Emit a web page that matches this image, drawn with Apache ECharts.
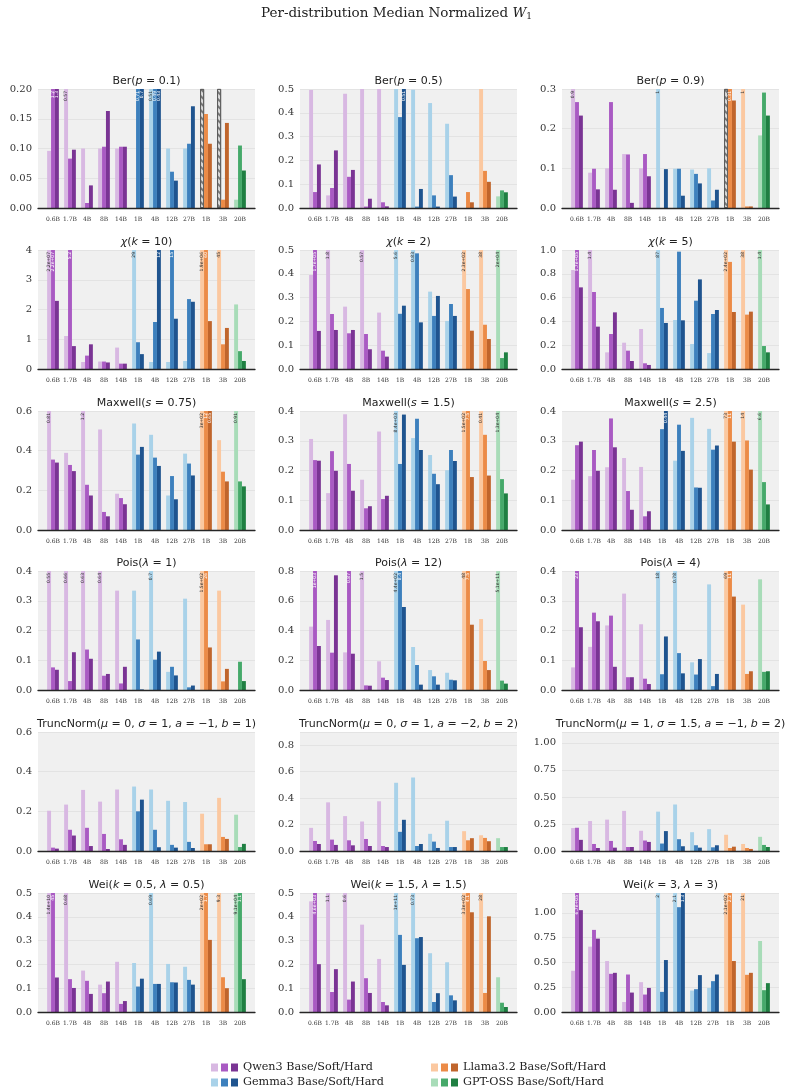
<!DOCTYPE html>
<html>
<head>
<meta charset="utf-8">
<script src="https://cdn.jsdelivr.net/npm/echarts@6/dist/echarts.min.js"></script>
<style>
html, body { margin: 0; padding: 0; background: #fff; }
#chart { width: 793px; height: 1092px; }
</style>
</head>
<body>
<div id="chart"></div>
<script>
// categories (model sizes) and their family
var modelSizes = ['0.6B', '1.7B', '4B', '8B', '14B', '1B', '4B', '12B', '27B', '1B', '3B', '20B'];
var familyOfGroup = [0, 0, 0, 0, 0, 1, 1, 1, 1, 2, 2, 3];
var familyNames = ['Qwen3', 'Gemma3', 'Llama3.2', 'GPT-OSS'];

// panel titles / y axes
var panelTitles = [
	'Ber({i|p} = 0.1)', 'Ber({i|p} = 0.5)', 'Ber({i|p} = 0.9)',
	'{i|χ}({i|k} = 10)', '{i|χ}({i|k} = 2)', '{i|χ}({i|k} = 5)',
	'Maxwell({i|s} = 0.75)', 'Maxwell({i|s} = 1.5)', 'Maxwell({i|s} = 2.5)',
	'Pois({i|λ} = 1)', 'Pois({i|λ} = 12)', 'Pois({i|λ} = 4)',
	'TruncNorm({i|μ} = 0, {i|σ} = 1, {i|a} = −1, {i|b} = 1)',
	'TruncNorm({i|μ} = 0, {i|σ} = 1, {i|a} = −2, {i|b} = 2)',
	'TruncNorm({i|μ} = 1, {i|σ} = 1.5, {i|a} = −1, {i|b} = 2)',
	'Wei({i|k} = 0.5, {i|λ} = 0.5)', 'Wei({i|k} = 1.5, {i|λ} = 1.5)', 'Wei({i|k} = 3, {i|λ} = 3)'
];
var yMax = [0.2, 0.5, 0.3, 4, 0.5, 1.0, 0.6, 0.4, 0.4, 0.4, 0.8, 0.4, 0.6, 0.9, 1.1, 0.5, 0.5, 1.2];
var yStep = [0.05, 0.1, 0.1, 1, 0.1, 0.2, 0.2, 0.1, 0.1, 0.1, 0.2, 0.1, 0.2, 0.2, 0.25, 0.1, 0.1, 0.25];
var yDecimals = [2, 1, 1, 0, 1, 1, 1, 1, 1, 1, 1, 1, 1, 1, 2, 1, 1, 2];

// values (null = missing, drawn hatched)
var berP01Base = [0.096, 0.57, 0.100, 0.100, 0.100, 0, 0.51, 0.100, 0.100, null, null, 0.014];
var berP01Soft = [1.2, 0.083, 0.0084, 0.103, 0.103, 0.71, 0.49, 0.061, 0.108, 0.158, 0.014, 0.105];
var berP01Hard = [1.3, 0.098, 0.038, 0.163, 0.103, 0.7, 0.43, 0.046, 0.171, 0.108, 0.143, 0.063];

var berP05Base = [0.496, 0.053, 0.480, 0.5, 0.5, 0.5, 0.497, 0.441, 0.354, 0, 0.5, 0.049];
var berP05Soft = [0.067, 0.084, 0.131, 0.006, 0.024, 0.382, 0.006, 0.053, 0.138, 0.067, 0.156, 0.074];
var berP05Hard = [0.183, 0.242, 0.160, 0.039, 0.007, 0.51, 0.080, 0.006, 0.048, 0.024, 0.110, 0.066];

var berP09Base = [0.9, 0.089, 0.100, 0.136, 0.100, 1, 0.099, 0.097, 0.100, null, 1, 0.183];
var berP09Soft = [0.267, 0.099, 0.267, 0.135, 0.136, 0, 0.099, 0.086, 0.019, 0.31, 0.004, 0.291];
var berP09Hard = [0.233, 0.047, 0.046, 0.013, 0.080, 0.098, 0.031, 0.062, 0.046, 0.271, 0.004, 0.233];

var chiK10Base = [2.2e7, 1.11, 0.235, 0.25, 0.72, 29, 0.235, 0.235, 0.27, 1.9e6, 45, 2.17];
var chiK10Soft = [2.2e7, 5.2, 0.45, 0.25, 0.18, 0.90, 1.58, 15, 2.35, 60, 0.83, 0.60];
var chiK10Hard = [2.29, 0.77, 0.83, 0.22, 0.18, 0.50, 12, 1.69, 2.26, 1.61, 1.38, 0.27];

var chiK2Base = [0.395, 1.8, 0.262, 0.57, 0.237, 5.6, 0.83, 0.325, 0.202, 230, 38, 2e4];
var chiK2Soft = [1.7e5, 0.231, 0.150, 0.147, 0.077, 0.232, 0.486, 0.223, 0.273, 0.336, 0.186, 0.046];
var chiK2Hard = [0.160, 0.164, 0.164, 0.083, 0.052, 0.266, 0.196, 0.307, 0.223, 0.161, 0.126, 0.070];

var chiK5Base = [0.832, 1.4, 0.140, 0.221, 0.336, 87, 0.412, 0.210, 0.134, 240, 38, 1.4];
var chiK5Soft = [1.7e5, 0.647, 0.294, 0.154, 0.048, 0.513, 0.986, 0.574, 0.462, 0.9, 0.457, 0.193];
var chiK5Hard = [0.686, 0.356, 0.476, 0.067, 0.034, 0.387, 0.409, 0.753, 0.496, 0.479, 0.482, 0.140];

var maxS075Base = [0.81, 0.389, 1.2, 0.507, 0.183, 0.537, 0.480, 0.174, 0.385, 300, 0.453, 0.91];
var maxS075Soft = [0.355, 0.328, 0.228, 0.091, 0.161, 0.380, 0.365, 0.272, 0.335, 12, 0.294, 0.245];
var maxS075Hard = [0.340, 0.297, 0.174, 0.069, 0.130, 0.419, 0.323, 0.155, 0.275, 0.65, 0.245, 0.220];

var maxS15Base = [0.306, 0.124, 0.389, 0.169, 0.331, 8400, 0.309, 0.252, 0.201, 150, 0.41, 1.3e4];
var maxS15Soft = [0.235, 0.265, 0.222, 0.073, 0.104, 0.222, 0.374, 0.189, 0.269, 7.5, 0.320, 0.171];
var maxS15Hard = [0.233, 0.199, 0.132, 0.080, 0.115, 0.388, 0.269, 0.154, 0.232, 0.178, 0.183, 0.123];

var maxS25Base = [0.169, 0.181, 0.211, 0.242, 0.212, 3.2e26, 0.233, 0.377, 0.340, 73, 14, 6.6];
var maxS25Soft = [0.285, 0.269, 0.375, 0.131, 0.046, 0.339, 0.354, 0.143, 0.270, 11, 0.301, 0.161];
var maxS25Hard = [0.297, 0.199, 0.278, 0.068, 0.063, 0.44, 0.266, 0.142, 0.284, 0.297, 0.203, 0.086];

var poisL1Base = [0.55, 0.66, 0.63, 0.64, 0.334, 0.334, 0.7, 0.061, 0.307, 150, 0.334, 1.4e28];
var poisL1Soft = [0.076, 0.030, 0.136, 0.048, 0.022, 0.170, 0.102, 0.078, 0.009, 26, 0.029, 0.095];
var poisL1Hard = [0.068, 0.127, 0.105, 0.054, 0.078, 0.002, 0.129, 0.049, 0.015, 0.143, 0.071, 0.030];

var poisL12Base = [0.426, 0.471, 0.253, 1.5, 0.193, 440, 0.289, 0.134, 0.116, 48, 0.477, 5.1e11];
var poisL12Soft = [1000, 0.251, 0.87, 0.031, 0.083, 8.4, 0.168, 0.092, 0.069, 7.5, 0.195, 0.063];
var poisL12Hard = [0.296, 0.771, 0.244, 0.029, 0.067, 0.558, 0.036, 0.036, 0.065, 0.439, 0.134, 0.043];

var poisL4Base = [0.076, 0.145, 0.217, 0.324, 0.221, 18, 0.78, 0.093, 0.355, 69, 0.287, 0.372];
var poisL4Soft = [23, 0.260, 0.250, 0.043, 0.038, 0.053, 0.124, 0.052, 0.013, 11, 0.054, 0.061];
var poisL4Hard = [0.211, 0.231, 0.078, 0.043, 0.020, 0.180, 0.056, 0.104, 0.054, 0.314, 0.063, 0.063];

var tn1Base = [0.203, 0.234, 0.308, 0.249, 0.310, 0.325, 0.310, 0.253, 0.247, 0.188, 0.268, 0.183];
var tn1Soft = [0.017, 0.107, 0.117, 0.086, 0.059, 0.200, 0.107, 0.031, 0.046, 0.034, 0.071, 0.020];
var tn1Hard = [0.012, 0.078, 0.025, 0.010, 0.031, 0.259, 0.019, 0.017, 0.015, 0.034, 0.061, 0.036];

var tn2Base = [0.175, 0.368, 0.264, 0.223, 0.376, 0.516, 0.556, 0.130, 0.229, 0.150, 0.119, 0.097];
var tn2Soft = [0.076, 0.086, 0.081, 0.091, 0.038, 0.145, 0.038, 0.071, 0.030, 0.081, 0.099, 0.030];
var tn2Hard = [0.053, 0.046, 0.043, 0.038, 0.030, 0.236, 0.053, 0.023, 0.030, 0.097, 0.074, 0.030];

var tn3Base = [0.212, 0.277, 0.290, 0.371, 0.187, 0.364, 0.430, 0.174, 0.202, 0.150, 0.065, 0.131];
var tn3Soft = [0.215, 0.065, 0.093, 0.037, 0.097, 0.069, 0.109, 0.053, 0.034, 0.028, 0.028, 0.056];
var tn3Hard = [0.103, 0.028, 0.031, 0.037, 0.084, 0.184, 0.044, 0.031, 0.053, 0.040, 0.019, 0.037];

var weiK05Base = [1.4e10, 0.68, 0.174, 0.115, 0.211, 0.206, 0.69, 0.202, 0.190, 200, 9.3, 9.1e4];
var weiK05Soft = [45, 0.138, 0.131, 0.079, 0.034, 0.107, 0.118, 0.125, 0.135, 1.7, 0.146, 1.1];
var weiK05Hard = [0.145, 0.101, 0.076, 0.128, 0.046, 0.140, 0.118, 0.124, 0.115, 0.303, 0.100, 0.138];

var weiK15Base = [0.465, 1.1, 0.6, 0.367, 0.223, 1e11, 0.73, 0.247, 0.209, 330, 28, 0.146];
var weiK15Soft = [4600, 0.084, 0.052, 0.142, 0.042, 0.324, 0.310, 0.042, 0.070, 4.1, 0.080, 0.039];
var weiK15Hard = [0.201, 0.180, 0.128, 0.080, 0.028, 0.198, 0.315, 0.079, 0.049, 0.419, 0.402, 0.021];

var weiK3Base = [0.416, 0.659, 0.514, 0.101, 0.301, 2, 2.1, 0.216, 0.243, 210, 21, 0.716];
var weiK3Soft = [6.7e5, 0.828, 0.385, 0.378, 0.176, 0.203, 1.057, 0.230, 0.311, 2.2, 0.375, 0.220];
var weiK3Hard = [1.027, 0.740, 0.395, 0.196, 0.243, 0.524, 1.3, 0.372, 0.378, 0.514, 0.395, 0.291];

var panelData = [
	[berP01Base, berP01Soft, berP01Hard], [berP05Base, berP05Soft, berP05Hard], [berP09Base, berP09Soft, berP09Hard],
	[chiK10Base, chiK10Soft, chiK10Hard], [chiK2Base, chiK2Soft, chiK2Hard], [chiK5Base, chiK5Soft, chiK5Hard],
	[maxS075Base, maxS075Soft, maxS075Hard], [maxS15Base, maxS15Soft, maxS15Hard], [maxS25Base, maxS25Soft, maxS25Hard],
	[poisL1Base, poisL1Soft, poisL1Hard], [poisL12Base, poisL12Soft, poisL12Hard], [poisL4Base, poisL4Soft, poisL4Hard],
	[tn1Base, tn1Soft, tn1Hard], [tn2Base, tn2Soft, tn2Hard], [tn3Base, tn3Soft, tn3Hard],
	[weiK05Base, weiK05Soft, weiK05Hard], [weiK15Base, weiK15Soft, weiK15Hard], [weiK3Base, weiK3Soft, weiK3Hard]
];

// colours: family x (base, soft, hard)
var palette = [
	['#d8b8e2', '#a95ac3', '#7a3494'],
	['#a9d2e9', '#3d80bd', '#1f548f'],
	['#fbc8a0', '#ec8b47', '#c0652c'],
	['#a8dcb8', '#46a96a', '#1f7f42']
];

// layout
var colLeft = [38, 300, 562];
var rowTop = [89, 250, 411, 571, 732, 893];
var plotW = 217, plotH = 119, pad = 6.5;

/**
 * %.2g formatting like matplotlib
 */
function fmtG2(v) {
	var r = Number(v.toPrecision(2));
	var e = Math.floor(Math.log10(Math.abs(r)));
	if (e < -4 || e >= 2) {
		var parts = r.toExponential(1).split('e');
		var m = parts[0].replace(/\.0$/, '');
		var ex = parseInt(parts[1], 10);
		var sign = ex < 0 ? '-' : '+';
		ex = Math.abs(ex);
		return m + 'e' + sign + (ex < 10 ? '0' + ex : ex);
	}
	var t = r.toPrecision(2);
	if (t.indexOf('.') >= 0) t = t.replace(/0+$/, '').replace(/\.$/, '');
	return t;
}

var hatchStyle = {
	color: '#dcdcdc',
	borderColor: '#555',
	borderWidth: 0.8,
	decal: {
		symbol: 'rect',
		symbolSize: 1,
		dashArrayX: [[1, 0]],
		dashArrayY: [1.2, 2.4],
		rotation: Math.PI / 4,
		color: '#777'
	}
};

var option = {
	animation: false,
	backgroundColor: '#fff',
	title: [],
	grid: [],
	xAxis: [],
	yAxis: [],
	series: [],
	graphic: []
};

// main title
option.title.push({
	text: 'Per-distribution Median Normalized {i|W}{s|1}',
	left: 396.5,
	top: 6,
	padding: 0,
	textAlign: 'center',
	textStyle: {
		fontFamily: 'DejaVu Serif',
		fontSize: 13.5,
		fontWeight: 'normal',
		color: '#222',
		rich: {
			i: { fontFamily: 'DejaVu Serif', fontSize: 13.5, fontStyle: 'italic', color: '#222' },
			s: { fontFamily: 'DejaVu Serif', fontSize: 9, padding: [6, 0, 0, 0], color: '#222' }
		}
	}
});

panelData.forEach(function(sets, k) {
	var col = k % 3, row = Math.floor(k / 3);
	var left = colLeft[col], top = rowTop[row];
	var ymax = yMax[k], step = yStep[k], dec = yDecimals[k];
	var gA = option.grid.length;

	option.title.push({
		text: panelTitles[k],
		left: left + plotW / 2,
		top: top - 13.5,
		padding: 0,
		textAlign: 'center',
		textStyle: {
			fontFamily: 'DejaVu Sans',
			fontSize: 11,
			fontWeight: 'normal',
			color: '#222',
			rich: {
				i: { fontFamily: 'DejaVu Sans', fontSize: 11, fontStyle: 'italic', color: '#222' }
			}
		}
	});

	// background grid with y axis and bottom line
	option.grid.push({ left: left, top: top, width: plotW, height: plotH, show: true, backgroundColor: '#f0f0f0', borderWidth: 0 });
	// inner grid holding the bars (matplotlib margins)
	option.grid.push({ left: left + pad, top: top, width: plotW - 2 * pad, height: plotH });

	option.xAxis.push({
		gridIndex: gA, type: 'value', min: 0, max: 1, z: 5,
		axisLine: { show: true, onZero: true, lineStyle: { color: '#262626', width: 1.3 } },
		axisTick: { show: false }, axisLabel: { show: false }, splitLine: { show: false }
	});
	option.yAxis.push({
		gridIndex: gA, type: 'value', min: 0, max: ymax, interval: step,
		axisLine: { show: false }, axisTick: { show: false },
		axisLabel: {
			margin: 6, fontFamily: 'DejaVu Serif', fontSize: 10, color: '#333',
			formatter: function(v) {
				var q = v / step;
				return Math.abs(q - Math.round(q)) < 1e-6 ? v.toFixed(dec) : '';
			}
		},
		splitLine: { show: true, lineStyle: { color: '#e3e3e3', width: 1 } }
	});
	option.xAxis.push({
		gridIndex: gA + 1, type: 'category', data: modelSizes.map(function(s, i) { return String(i); }),
		axisLine: { show: false }, axisTick: { show: false },
		axisLabel: {
			interval: 0, margin: 8, fontFamily: 'DejaVu Serif', fontSize: 6, color: '#333',
			formatter: function(v, i) { return modelSizes[i]; }
		}
	});
	option.yAxis.push({ gridIndex: gA + 1, type: 'value', min: 0, max: ymax, show: false });

	sets.forEach(function(arr, v) {
		option.series.push({
			type: 'bar',
			xAxisIndex: gA + 1,
			yAxisIndex: gA + 1,
			barGap: '0%',
			barCategoryGap: '31%',
			clip: true,
			silent: true,
			data: arr.map(function(val) {
				if (val === null) return { value: ymax, itemStyle: hatchStyle, label: { show: false } };
				return val;
			}),
			itemStyle: {
				color: function(params) { return palette[familyOfGroup[params.dataIndex]][v]; }
			},
			label: {
				show: true,
				position: 'insideTop',
				rotate: 90,
				align: 'right',
				verticalAlign: 'middle',
				distance: 2,
				fontFamily: 'DejaVu Sans',
				fontSize: 4.5,
				color: v === 0 ? '#333' : '#fff',
				formatter: function(params) {
					var val = arr[params.dataIndex];
					return (val !== null && val > ymax * 1.0001) ? fmtG2(val) : '';
				}
			}
		});
	});
});

// legend drawn as groups of three swatches
var legendPos = [[211, 1062], [211, 1077], [431, 1062], [431, 1077]];
familyNames.forEach(function(name, f) {
	var x = legendPos[f][0], y = legendPos[f][1];
	var children = [];
	for (var v = 0; v < 3; v++) {
		children.push({ type: 'rect', shape: { x: v * 10, y: 0, width: 7, height: 8 }, style: { fill: palette[f][v] } });
	}
	children.push({
		type: 'text', x: 32, y: 4,
		style: { text: name + ' Base/Soft/Hard', fontFamily: 'DejaVu Serif', fontSize: 11.2, fill: '#222', verticalAlign: 'middle' }
	});
	option.graphic.push({ type: 'group', left: x, top: y, children: children });
});

var myChart = echarts.init(document.getElementById('chart'), null, { renderer: 'canvas' });
myChart.setOption(option);
</script>
</body>
</html>
